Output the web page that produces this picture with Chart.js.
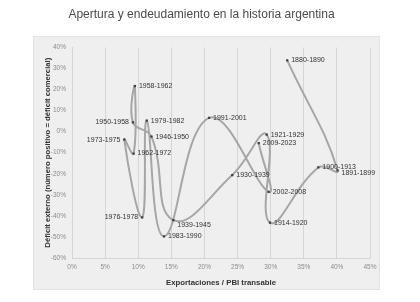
<!DOCTYPE html>
<html>
<head>
<meta charset="utf-8">
<script src="https://cdn.jsdelivr.net/npm/chart.js@4"></script>
<style>
  html, body { margin: 0; padding: 0; background: #ffffff; }
  #wrap { width: 420px; height: 302px; }
</style>
</head>
<body>
<div id="wrap"><canvas id="chart" width="420" height="302"></canvas></div>
<script>
// Periods in chronological order (the line follows this order)
const periods = [
    '1880-1890', '1891-1899', '1900-1913', '1914-1920', '1921-1929', '1930-1939',
    '1939-1945', '1946-1950', '1950-1958', '1958-1962', '1962-1972', '1973-1975',
    '1976-1978', '1979-1982', '1983-1990', '1991-2001', '2002-2008', '2009-2023'
];
// Exportaciones / PBI transable (%)
const exportShare = [
    32.5, 40.1, 37.2, 29.9, 29.4, 24.2,
    15.3, 12.0, 9.2, 9.5, 9.3, 7.9,
    10.6, 11.3, 13.9, 20.7, 29.7, 28.2
];
// Déficit externo (%)
const externalDeficit = [
    33.8, -18.4, -17.0, -43.2, -1.4, -20.6,
    -42.0, -2.4, 4.4, 21.6, -10.4, -3.8,
    -40.7, 5.2, -49.7, 6.5, -28.6, -5.5
];
const xTicks = [0, 5, 10, 15, 20, 25, 30, 35, 40, 45];
const yTicks = [-60, -50, -40, -30, -20, -10, 0, 10, 20, 30, 40];

const points = periods.map((p, i) => ({ x: exportShare[i], y: externalDeficit[i] }));

// labels that sit on the left of their marker
const leftLabels = ['1950-1958', '1973-1975', '1976-1978'];
const lowLabels = { '1939-1945': 5, '1891-1899': 3 };

const panelPlugin = {
    id: 'panel',
    beforeDraw(chart) {
        const ctx = chart.ctx;
        ctx.save();
        ctx.fillStyle = '#efefef';
        ctx.fillRect(33, 36, 347, 254);
        ctx.strokeStyle = '#e2e2e2';
        ctx.lineWidth = 1;
        ctx.strokeRect(33.5, 36.5, 346, 253);
        ctx.restore();
    }
};

const pointLabels = {
    id: 'pointLabels',
    afterDatasetsDraw(chart) {
        const ctx = chart.ctx;
        const meta = chart.getDatasetMeta(0);
        ctx.save();
        ctx.font = '7px "Liberation Sans", Arial, sans-serif';
        ctx.fillStyle = '#333333';
        ctx.textBaseline = 'middle';
        meta.data.forEach((el, i) => {
            const name = periods[i];
            const left = leftLabels.includes(name);
            ctx.textAlign = left ? 'right' : 'left';
            const dy = lowLabels[name] || 0;
            ctx.fillText(name, el.x + (left ? -4 : 4), el.y + dy);
        });
        ctx.restore();
    }
};

new Chart(document.getElementById('chart'), {
    type: 'scatter',
    data: {
        datasets: [{
            data: points,
            showLine: true,
            borderColor: '#a6a6a6',
            borderWidth: 2,
            tension: 0.45,
            pointStyle: 'rect',
            pointRadius: 1.6,
            pointBackgroundColor: '#404040',
            pointBorderColor: '#404040',
            pointBorderWidth: 0
        }]
    },
    options: {
        responsive: false,
        animation: false,
        layout: { padding: { left: 33, right: 50, top: 0, bottom: 14 } },
        plugins: {
            legend: { display: false },
            tooltip: { enabled: false },
            title: {
                display: true,
                text: 'Apertura y endeudamiento en la historia argentina',
                color: '#4a4a4a',
                font: { family: '"Liberation Sans", Arial, sans-serif', size: 12, weight: 'normal' },
                padding: { top: 7, bottom: 26 }
            }
        },
        scales: {
            x: {
                type: 'linear',
                min: 0,
                max: 45,
                afterBuildTicks: (s) => { s.ticks = xTicks.map(v => ({ value: v })); },
                ticks: {
                    callback: v => v + '%',
                    color: '#8c8c8c',
                    font: { family: '"Liberation Sans", Arial, sans-serif', size: 6.5 },
                    padding: 5,
                    maxRotation: 0
                },
                grid: { color: '#d6d6d6', drawTicks: false },
                border: { color: '#d6d6d6' },
                title: {
                    display: true,
                    text: 'Exportaciones / PBI transable',
                    color: '#333333',
                    font: { family: '"Liberation Sans", Arial, sans-serif', size: 7.8, weight: 'bold' },
                    padding: { top: 5, bottom: 0 }
                },
                afterFit: (s) => { s.height = 30; }
            },
            y: {
                type: 'linear',
                min: -60,
                max: 40,
                afterBuildTicks: (s) => { s.ticks = yTicks.map(v => ({ value: v })); },
                ticks: {
                    callback: v => v + '%',
                    color: '#8c8c8c',
                    font: { family: '"Liberation Sans", Arial, sans-serif', size: 6.5 },
                    padding: 6
                },
                grid: { display: false, drawTicks: false },
                border: { color: '#d6d6d6' },
                title: {
                    display: true,
                    text: 'Déficit externo (número positivo = déficit comercial)',
                    color: '#333333',
                    font: { family: '"Liberation Sans", Arial, sans-serif', size: 7.7, weight: 'bold' },
                    padding: { top: 10, bottom: 0 }
                },
                afterFit: (s) => { s.width = 39; }
            }
        }
    },
    plugins: [panelPlugin, pointLabels]
});
</script>
</body>
</html>
